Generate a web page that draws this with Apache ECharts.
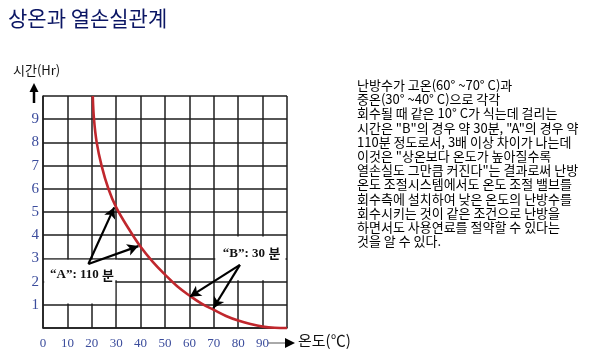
<!DOCTYPE html>
<html><head><meta charset="utf-8">
<script src="https://cdn.jsdelivr.net/npm/echarts@6/dist/echarts.min.js"></script>
<style>html,body{margin:0;padding:0;background:#fff}#c{width:607px;height:361px}</style>
</head><body><div id="c"></div>
<script>
// ---- data ----
const titleText = '상온과 열손실관계';
const yAxisName = '시간(Hr)';
const xAxisName = '온도(℃)';
const tempX  = [20.4, 20.9, 22, 24, 26.8, 30, 35, 40, 45, 50, 55, 60, 65, 70, 75, 80, 85, 90, 95, 100];
const hoursY = [10, 9, 8, 7, 6, 5.2, 4.3, 3.5, 2.85, 2.3, 1.8, 1.4, 1.05, 0.78, 0.52, 0.32, 0.17, 0.06, 0.01, 0];
const xTickLabels = [0, 10, 20, 30, 40, 50, 60, 70, 80, 90];
const yTickLabels = [1, 2, 3, 4, 5, 6, 7, 8, 9];
const annotALabel = ['“A”: 110', '분'];
const annotBLabel = ['“B”: 30', '분'];
const annotAFrom = [18.6, 2.76];
const annotATo = [[29.2, 5.2], [39.1, 3.53]];
const annotBFrom = [80.7, 2.72];
const annotBTo = [[60.2, 1.35], [69.8, 0.85]];
const annotAText = [16.0, 2.3];
const annotBText = [85.5, 3.22];
const noteLines = [
  '난방수가 고온(60° ~70° C)과',
  '중온(30° ~40° C)으로 각각',
  '회수될 때 같은 10° C가 식는데 걸리는',
  '시간은 "B"의 경우 약 30분, "A"의 경우 약',
  '110분 정도로서, 3배 이상 차이가 나는데',
  '이것은 "상온보다 온도가 높아질수록',
  '열손실도 그만큼 커진다"는 결과로써 난방',
  '온도 조절시스템에서도 온도 조절 밸브를',
  '회수측에 설치하여 낮은 온도의 난방수를',
  '회수시키는 것이 같은 조건으로 난방을',
  '하면서도 사용연료를 절약할 수 있다는',
  '것을 알 수 있다.'
];
// ---- chart ----
const chart = echarts.init(document.getElementById('c'));
const labelBlue = '#3b4c9c';
const gridLine = {show: true, lineStyle: {color: '#1e1e1e', width: 1.5}};
const curveData = tempX.map((x, i) => [x, hoursY[i]]);
const arrowLines = annotATo.map(t => [{coord: annotAFrom}, {coord: t}])
  .concat(annotBTo.map(t => [{coord: annotBFrom}, {coord: t}]));
const richStyle = {
  s: {fontFamily: 'Liberation Serif', fontWeight: 'bold', fontSize: 13, color: '#111'},
  k: {fontFamily: 'Noto Sans CJK KR', fontWeight: 'bold', fontSize: 13, color: '#111'}
};
chart.setOption({
  animation: false,
  title: {text: titleText, left: 3, top: 3,
    textStyle: {color: '#0b1664', fontSize: 21, fontWeight: 'normal', fontFamily: 'Noto Sans CJK KR'}},
  grid: {left: 43, top: 96, right: 320, bottom: 33, containLabel: false},
  xAxis: {type: 'value', min: 0, max: 100, interval: 10,
    axisLine: {show: true, onZero: false, lineStyle: {color: '#1e1e1e', width: 1.5}},
    axisTick: {show: false}, splitLine: gridLine,
    axisLabel: {margin: 9, color: labelBlue, fontFamily: 'Liberation Serif', fontSize: 13,
      formatter: v => xTickLabels.includes(v) ? String(v) : ''}},
  yAxis: {type: 'value', min: 0, max: 10, interval: 1,
    axisLine: {show: true, lineStyle: {color: '#1e1e1e', width: 1.5}},
    axisTick: {show: false}, splitLine: gridLine,
    axisLabel: {margin: 4, color: labelBlue, fontFamily: 'Liberation Serif', fontSize: 15,
      formatter: v => yTickLabels.includes(v) ? String(v) : ''}},
  series: [
    {type: 'line', z: 1, data: [], silent: true,
     markArea: {silent: true, itemStyle: {color: '#fff', opacity: 1}, label: {show: false},
       data: [
         [{coord: [0.5, 1.06]}, {coord: [29.6, 2.94]}],
         [{coord: [29.0, 2.06]}, {coord: [30.6, 2.94]}],
         [{coord: [70.6, 2.06]}, {coord: [99.4, 3.94]}]
       ]}},
    {type: 'line', z: 3, data: curveData, smooth: 0.4, showSymbol: false, symbol: 'none',
     lineStyle: {color: '#c0272d', width: 2.6}, clip: false,
     markLine: {silent: true, symbol: ['none', 'arrow'], symbolSize: [9, 11],
       lineStyle: {color: '#000', width: 2.2, type: 'solid'}, label: {show: false},
       data: arrowLines},
     markPoint: {silent: true, symbol: 'circle', symbolSize: 1, itemStyle: {color: 'rgba(0,0,0,0)'},
       data: [
         {coord: annotAText, label: {show: true, position: 'inside', formatter: '{s|' + annotALabel[0] + '} {k|' + annotALabel[1] + '}', rich: richStyle}},
         {coord: annotBText, label: {show: true, position: 'inside', formatter: '{s|' + annotBLabel[0] + '} {k|' + annotBLabel[1] + '}', rich: richStyle}}
       ]}}
  ],
  graphic: [
    {type: 'text', left: 13, top: 64, style: {text: yAxisName, fontFamily: 'Noto Sans CJK KR', fontSize: 13, fill: '#111'}},
    {type: 'line', shape: {x1: 34, y1: 103, x2: 34, y2: 90}, style: {stroke: '#000', lineWidth: 2.5}},
    {type: 'polygon', shape: {points: [[29.5, 92], [38.5, 92], [34, 83]]}, style: {fill: '#000'}},
    {type: 'line', shape: {x1: 268, y1: 343, x2: 286, y2: 343}, style: {stroke: '#555', lineWidth: 1}},
    {type: 'polygon', shape: {points: [[285, 338], [285, 348], [295, 343]]}, style: {fill: '#000'}},
    {type: 'text', left: 298, top: 333, style: {text: xAxisName, fontFamily: 'Noto Sans CJK KR', fontSize: 15, fill: '#111'}},
    {type: 'text', left: 357, top: 78, style: {text: noteLines.join('\n'), fontFamily: 'Noto Sans CJK KR', fontSize: 13, lineHeight: 14.2, fill: '#000'}}
  ]
});
</script></body></html>
